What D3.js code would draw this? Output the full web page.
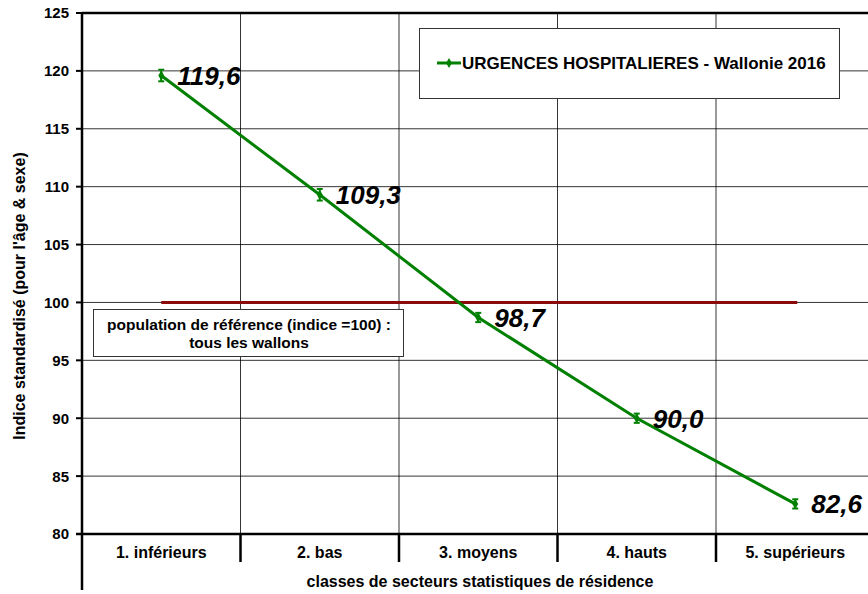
<!DOCTYPE html>
<html><head><meta charset="utf-8">
<script src="https://cdn.jsdelivr.net/npm/d3@7"></script>
<style>
html,body{margin:0;padding:0;background:#fff;overflow:hidden}
svg{display:block;font-family:"Liberation Sans",Arial,sans-serif}
</style></head><body>
<svg id="c" width="868" height="594"></svg>
<script>
const categories = ["1. inférieurs","2. bas","3. moyens","4. hauts","5. supérieurs"];
const values = [119.6,109.3,98.7,90.0,82.6];
const ciLow = [119.1,108.8,98.3,89.6,82.2];
const ciHigh = [120.1,109.8,99.1,90.4,83.0];
const valueLabels = ["119,6","109,3","98,7","90,0","82,6"];
const yTicks = [80,85,90,95,100,105,110,115,120,125];
const refValue = 100;
const seriesName = "URGENCES HOSPITALIERES - Wallonie 2016";
const refText = ["population de référence (indice =100) :","tous les wallons"];
const yTitle = "Indice standardisé (pour l'âge & sexe)";
const xTitle = "classes de secteurs statistiques de résidence";

const svg = d3.select("#c");
const L = 82, T = 13, B = 534, bandW = 158.5;
const x = d3.scaleBand().domain(categories).range([L, L + bandW*categories.length]).padding(0);
const y = d3.scaleLinear().domain([80,125]).range([B, T]);
const green = "#008000";

// horizontal grid
svg.append("g").selectAll("line").data(yTicks.filter(d=>d>80 && d<125)).join("line")
  .attr("x1", L).attr("x2", 868).attr("y1", d=>y(d)).attr("y2", d=>y(d))
  .attr("stroke","#000").attr("stroke-width",0.8);
// vertical grid at category boundaries
const bounds = categories.slice(1).map(c=>x(c));
svg.append("g").selectAll("line").data(bounds).join("line")
  .attr("x1", d=>d).attr("x2", d=>d).attr("y1", T).attr("y2", B)
  .attr("stroke","#000").attr("stroke-width",0.8);
// separators below axis
svg.append("g").selectAll("line").data(bounds).join("line")
  .attr("x1", d=>d).attr("x2", d=>d).attr("y1", B).attr("y2", B+28)
  .attr("stroke","#000").attr("stroke-width",2.5);
// top border
svg.append("line").attr("x1",L).attr("x2",868).attr("y1",y(125)).attr("y2",y(125)).attr("stroke","#000").attr("stroke-width",2.5);
// bottom axis
svg.append("line").attr("x1",L-6).attr("x2",868).attr("y1",B).attr("y2",B).attr("stroke","#000").attr("stroke-width",2.5);
// left axis
svg.append("line").attr("x1",L).attr("x2",L).attr("y1",T-1).attr("y2",590).attr("stroke","#000").attr("stroke-width",2.5);

// y ticks
const yAxis = svg.append("g");
yAxis.selectAll("line").data(yTicks).join("line")
  .attr("x1",L-6).attr("x2",L).attr("y1",d=>y(d)).attr("y2",d=>y(d)).attr("stroke","#000").attr("stroke-width",2);
yAxis.selectAll("text").data(yTicks).join("text")
  .attr("x",69).attr("y",d=>y(d)).attr("dy","0.36em").attr("text-anchor","end")
  .attr("font-size",15).attr("font-weight","bold").text(d=>d);

// category labels
svg.append("g").selectAll("text").data(categories).join("text")
  .attr("x",d=>x(d)+bandW/2).attr("y",558).attr("text-anchor","middle")
  .attr("font-size",16).attr("font-weight","bold").text(d=>d);

// titles
svg.append("text").attr("x",480).attr("y",587).attr("text-anchor","middle")
  .attr("font-size",16).attr("font-weight","bold").text(xTitle);
svg.append("text").attr("transform","translate(25,296) rotate(-90)").attr("text-anchor","middle")
  .attr("font-size",16).attr("font-weight","bold").text(yTitle);

// reference line
svg.append("line").attr("x1",x(categories[0])+bandW/2).attr("x2",x(categories[4])+bandW/2+2)
  .attr("y1",y(refValue)).attr("y2",y(refValue)).attr("stroke","#8B0A0A").attr("stroke-width",3);

// reference box
svg.append("rect").attr("x",93.5).attr("y",309.5).attr("width",310).attr("height",47)
  .attr("fill","#fff").attr("stroke","#333").attr("stroke-width",1);
svg.append("g").selectAll("text").data(refText).join("text")
  .attr("x",249).attr("y",(d,i)=>330+i*18).attr("text-anchor","middle")
  .attr("font-size",15.5).attr("font-weight","bold").text(d=>d);

// series line
const px = (d,i)=>x(categories[i])+bandW/2;
svg.append("path").datum(values)
  .attr("d", d3.line().x(px).y(d=>y(d)))
  .attr("fill","none").attr("stroke",green).attr("stroke-width",3);
// error bars
const eb = svg.append("g").attr("stroke",green).attr("stroke-width",2);
values.forEach((v,i)=>{
  const cx = px(v,i);
  eb.append("line").attr("x1",cx).attr("x2",cx).attr("y1",y(ciHigh[i])).attr("y2",y(ciLow[i]));
  eb.append("line").attr("x1",cx-3).attr("x2",cx+3).attr("y1",y(ciHigh[i])).attr("y2",y(ciHigh[i]));
  eb.append("line").attr("x1",cx-3).attr("x2",cx+3).attr("y1",y(ciLow[i])).attr("y2",y(ciLow[i]));
});
// markers
svg.append("g").selectAll("path").data(values).join("path")
  .attr("transform",(d,i)=>`translate(${px(d,i)},${y(d)})`)
  .attr("d",d3.symbol(d3.symbolDiamond,30)).attr("fill",green);
// value labels
svg.append("g").selectAll("text").data(values).join("text")
  .attr("x",(d,i)=>px(d,i)+16).attr("y",d=>y(d)).attr("dy","0.36em")
  .attr("font-size",26).attr("font-weight","bold").attr("font-style","italic")
  .text((d,i)=>valueLabels[i]);

// legend
svg.append("rect").attr("x",419.5).attr("y",28.5).attr("width",420).attr("height",70)
  .attr("fill","#fff").attr("stroke","#333").attr("stroke-width",1);
svg.append("line").attr("x1",437).attr("x2",461).attr("y1",63).attr("y2",63).attr("stroke",green).attr("stroke-width",3);
svg.append("path").attr("transform","translate(449,63)").attr("d",d3.symbol(d3.symbolDiamond,30)).attr("fill",green);
svg.append("text").attr("x",462).attr("y",63).attr("dy","0.36em").attr("font-size",17).attr("font-weight","bold").text(seriesName);
</script>
</body></html>
